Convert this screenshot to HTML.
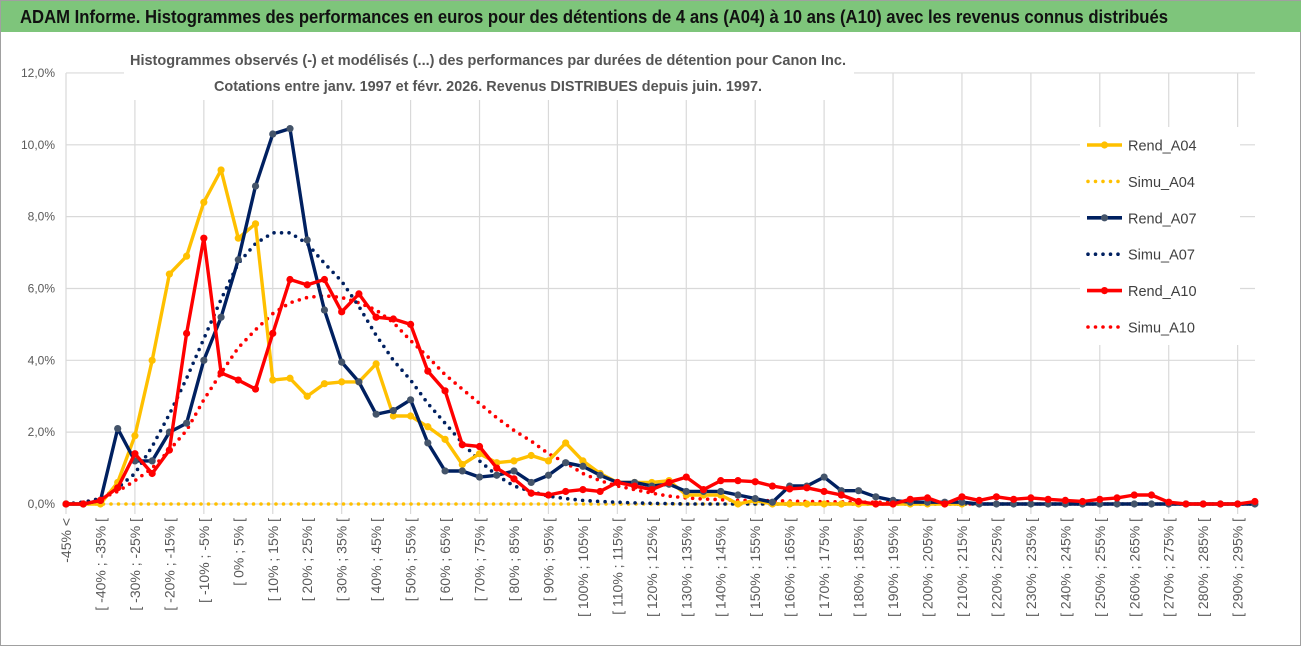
<!DOCTYPE html>
<html><head><meta charset="utf-8"><style>
html,body{margin:0;padding:0;background:#fff;}
svg{display:block;font-family:"Liberation Sans",sans-serif;}
</style></head><body>
<svg id="chart" width="1302" height="647" viewBox="0 0 1302 647">
  <rect x="0" y="0" width="1302" height="647" fill="#fff"/>
  <rect x="0.5" y="0.5" width="1300" height="645" fill="none" stroke="#a0a0a0"/>
  <rect x="1" y="1" width="1300" height="31" fill="#7ec57b"/>
  <text x="20" y="23" font-size="18.5" font-weight="bold" fill="#111" textLength="1148" lengthAdjust="spacingAndGlyphs">ADAM Informe. Histogrammes des performances en euros pour des détentions de 4 ans (A04) à 10 ans (A10) avec les revenus connus distribués</text>
  <g id="grid"></g>
  <g id="yaxis"></g>
  <g id="xaxis"></g>
  <rect x="124" y="44" width="730" height="56" fill="#fff"/>
  <text x="488" y="65" font-size="15" font-weight="bold" fill="#555" text-anchor="middle" textLength="716" lengthAdjust="spacingAndGlyphs">Histogrammes observés (-) et modélisés (...) des performances par durées de détention pour Canon Inc.</text>
  <text x="488" y="91" font-size="15" font-weight="bold" fill="#555" text-anchor="middle" textLength="548" lengthAdjust="spacingAndGlyphs">Cotations entre janv. 1997 et févr. 2026. Revenus DISTRIBUES depuis juin. 1997.</text>
  <g id="series"></g>
  <g id="legend"></g>
</svg>
<script>
const categories = (function(){const a=["-45% <"];for(let k=1;k<70;k++){a.push("[ "+(-50+5*k)+"% ; "+(-45+5*k)+"% [");}return a;})();
const yTicks = [0,2,4,6,8,10,12];
const rendA04 = [0,0,0,0.6,1.9,4.0,6.4,6.9,8.4,9.3,7.4,7.8,3.45,3.5,3.0,3.35,3.4,3.4,3.9,2.45,2.45,2.15,1.8,1.1,1.4,1.15,1.2,1.35,1.2,1.7,1.2,0.85,0.6,0.6,0.6,0.65,0.25,0.25,0.25,0,0.1,0,0,0,0,0,0,0,0,0,0,0,0];
const simuA04 = [0,0,0,0,0,0,0,0,0,0,0,0,0,0,0,0,0,0,0,0,0,0,0,0,0,0,0,0,0,0,0,0,0,0,0,0,0,0,0,0,0,0,0,0,0,0,0,0,0,0,0,0,0,0,0,0,0,0,0,0,0,0,0,0,0,0,0,0,0,0];
const rendA07 = [0,0,0.1,2.1,1.2,1.2,2.0,2.25,4.0,5.2,6.8,8.85,10.3,10.45,7.35,5.4,3.95,3.4,2.5,2.6,2.9,1.7,0.92,0.92,0.75,0.8,0.92,0.6,0.8,1.15,1.05,0.8,0.6,0.6,0.5,0.55,0.35,0.35,0.35,0.25,0.15,0.05,0.5,0.5,0.75,0.37,0.37,0.2,0.1,0.05,0.05,0.05,0.05,0,0,0,0,0,0,0,0,0,0,0,0,0,0,0,0,0];
const simuA07 = [0,0.05,0.15,0.45,0.85,1.6,2.5,3.5,4.6,5.7,6.7,7.25,7.55,7.55,7.25,6.7,6.2,5.5,4.7,4.0,3.45,2.8,2.25,1.7,1.2,0.8,0.5,0.35,0.22,0.15,0.1,0.07,0.05,0.03,0.02,0.01,0,0,0,0,0,0,0,0,0,0,0,0,0,0,0,0,0,0,0,0,0,0,0,0,0,0,0,0,0,0,0,0,0,0];
const rendA10 = [0,0,0.1,0.45,1.4,0.85,1.5,4.75,7.4,3.65,3.45,3.2,4.75,6.25,6.1,6.25,5.35,5.85,5.2,5.15,5.0,3.7,3.15,1.65,1.6,1.0,0.7,0.3,0.25,0.35,0.4,0.35,0.6,0.5,0.4,0.6,0.75,0.4,0.65,0.65,0.62,0.5,0.42,0.45,0.35,0.25,0.07,0,0,0.13,0.17,0,0.2,0.1,0.2,0.13,0.17,0.13,0.1,0.07,0.13,0.17,0.25,0.25,0.05,0,0,0,0,0.07];
const simuA10 = [0,0.05,0.15,0.35,0.65,1.0,1.5,2.05,2.9,3.65,4.35,4.85,5.3,5.6,5.75,5.8,5.75,5.6,5.4,5.05,4.55,4.1,3.6,3.2,2.8,2.4,2.05,1.75,1.4,1.15,0.85,0.65,0.5,0.4,0.3,0.22,0.17,0.14,0.12,0.1,0.1,0.09,0.08,0.07,0.06,0.06,0.05,0.05,0.04,0.04,0.03,0,0,0,0,0,0,0,0,0,0,0,0,0,0,0,0,0,0,0];

const NS="http://www.w3.org/2000/svg";
const X0=66, DX=17.23, Y0=504, PPU=35.92;
function xs(i){return X0+DX*i;}
function ys(v){return Y0-v*PPU;}
function mk(tag,attrs,parent){const e=document.createElementNS(NS,tag);for(const k in attrs)e.setAttribute(k,attrs[k]);parent.appendChild(e);return e;}

const grid=document.getElementById('grid');
yTicks.forEach(t=>{
  const l=mk('line',{x1:X0,x2:1255,y1:ys(t),y2:ys(t),stroke:'#d9d9d9','stroke-width':1.2},grid);
  
  
});
for(let i=0;i<categories.length;i+=4){
  const l=mk('line',{x1:xs(i),x2:xs(i),y1:ys(12),y2:Y0+10,stroke:'#d9d9d9','stroke-width':1.2},grid);
  
  
}
const yax=document.getElementById('yaxis');
yTicks.forEach(t=>{
  const tx=mk('text',{x:55,y:ys(t)+4,'font-size':12,fill:'#595959','text-anchor':'end'},yax);
  tx.textContent=t.toFixed(1).replace('.',',')+'%';
  
  
});
const xax=document.getElementById('xaxis');
for(let i=0;i<categories.length;i+=2){
  const tx=mk('text',{x:0,y:0,'font-size':14,fill:'#595959','text-anchor':'end',transform:'translate('+(xs(i)+5)+',518) rotate(-90)'},xax);
  tx.textContent=categories[i];
  
  
}

const ser=document.getElementById('series');
function pts(arr){return arr.map((v,i)=>xs(i).toFixed(1)+','+ys(v).toFixed(1)).join(' ');}
function dotted(arr,color,name){
  const p=mk('polyline',{points:pts(arr),fill:'none',stroke:color,'stroke-width':3.6,'stroke-linecap':'round','stroke-dasharray':'0 7.5'},ser);
  
  
}
function solid(arr,color,mcolor,name){
  const g=mk('g',{},ser);
  
  
  mk('polyline',{points:pts(arr),fill:'none',stroke:color,'stroke-width':3.4,'stroke-linejoin':'round'},g);
  arr.forEach((v,i)=>{
    const c=mk('circle',{cx:xs(i),cy:ys(v),r:3.6,fill:mcolor},g);
    
    
  });
}
dotted(simuA04,'#ffc000','simu-a04-line');
dotted(simuA10,'#ff0000','simu-a10-line');
dotted(simuA07,'#002060','simu-a07-line');
solid(rendA04,'#ffc000','#ffc000','rend-a04-line');
solid(rendA07,'#002060','#44546a','rend-a07-line');
solid(rendA10,'#ff0000','#ff0000','rend-a10-line');

const leg=document.getElementById('legend');
mk('rect',{x:1080,y:127,width:160,height:218,fill:'#fff'},leg);
const entries=[['Rend_A04','#ffc000',false],['Simu_A04','#ffc000',true],['Rend_A07','#002060',false],['Simu_A07','#002060',true],['Rend_A10','#ff0000',false],['Simu_A10','#ff0000',true]];
entries.forEach((e,k)=>{
  const y=145+k*36.4;
  const g=mk('g',{},leg);
  
  
  if(e[2]){mk('line',{x1:1088,x2:1119,y1:y,y2:y,stroke:e[1],'stroke-width':3.6,'stroke-linecap':'round','stroke-dasharray':'0 7.5'},g);}
  else{mk('line',{x1:1087,x2:1122,y1:y,y2:y,stroke:e[1],'stroke-width':3.6},g);mk('circle',{cx:1104.5,cy:y,r:3.6,fill:e[1]==='#002060'?'#44546a':e[1]},g);}
  const t=mk('text',{x:1128,y:y+5.5,'font-size':14.5,fill:'#404040'},g);
  t.textContent=e[0];
});
</script>
</body></html>
